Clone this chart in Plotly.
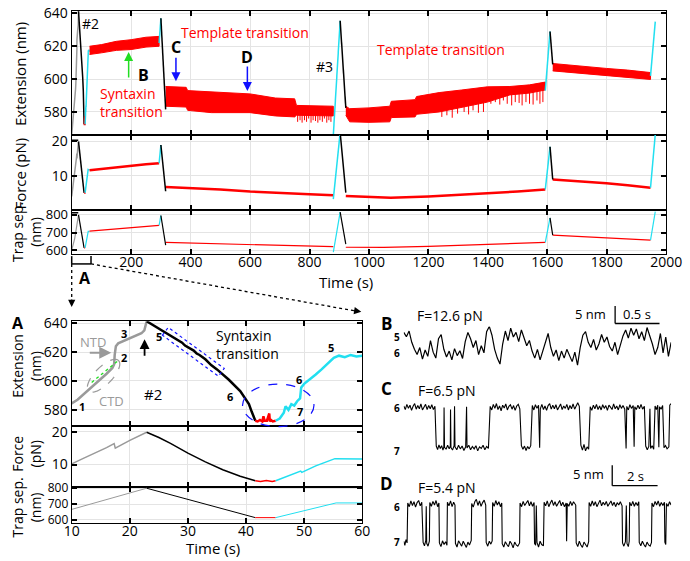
import numpy as np
import plotly.graph_objects as go

W, H = 690, 561
FONT = "Open Sans"
RED, CYAN, GRAY, BLACK = "#ff0000", "#22dff0", "#9a9a9a", "#000000"
BLUE, GREEN = "#1010ff", "#22dd22"

def px(x): return x / W
def py(y): return 1 - y / H

# ---------------- data: pull #2 (detail, also in overview) ----------------
gray_t = [0, 10, 11, 12, 13, 14, 15, 16, 17, 17.3, 17.4, 17.6, 18, 20, 22, 22.5, 22.9]
gray_ext = [566, 584.5, 587, 590.5, 594, 597.5, 601, 605, 609, 611.5, 618, 624, 626, 629.5, 633, 635, 641.3]
gray_force_t = [0, 10, 12, 14, 16, 17.3, 17.5, 20, 22.9]
gray_force = [4.0, 10.2, 11.9, 13.5, 15.2, 16.4, 15.0, 17.4, 19.9]
gray_trap_t = [0, 10, 22.9]
gray_trap = [600, 666, 800]

prev_t = [0, 22]
prev_force = [20.3, 20.3]
prev_trap = [812, 812]

black_t = [22.9, 25, 27, 28, 29, 29.5, 30, 31, 31.5, 32, 33, 34, 35, 37, 39, 40.5, 41, 41.6]
black_ext = [641.3, 636, 631, 629, 626.5, 624.5, 623.5, 621, 619, 618, 615, 611, 608, 601, 593, 584, 578.5, 572.5]
black_force_t = [22.9, 25, 27, 30, 33, 36, 39, 41.6]
black_force = [19.9, 18.3, 16.5, 13.5, 10.8, 8.4, 6.4, 5.0]
black_trap_t = [22.9, 41.6]
black_trap = [800, 614]

red0_t = [41.6, 42, 42.4, 42.8, 43.0, 43.2, 43.6, 44.0, 44.1, 44.3, 44.6, 45.1]
red0_ext = [572.5, 572, 573, 572, 575.5, 572.5, 572.5, 577.5, 572, 573, 572, 572.5]
red0_force_t = [41.6, 42.5, 43.5, 44.5, 45.1]
red0_force = [5.0, 4.8, 5.1, 4.8, 5.0]
red0_trap_t = [41.6, 45.1]
red0_trap = [614, 614]

cyan_t = [45.1, 45.8, 46.5, 46.8, 47.3, 47.8, 48.3, 48.8, 49.3, 49.5, 50, 51, 52, 53, 54, 55.1, 56, 57, 58, 59, 60]
cyan_ext = [572.5, 574, 578, 582.5, 580, 584, 583, 586, 588, 595.5, 598, 601, 604.5, 608, 612, 616, 617.5, 616.5, 618, 617, 617.5]
cyan_force_t = [45.1, 47, 49.4, 49.6, 52, 55.3, 57, 60]
cyan_force = [5.0, 6.3, 8.0, 7.6, 9.6, 11.8, 11.7, 11.7]
cyan_trap_t = [45.1, 55.5, 60]
cyan_trap = [614, 707, 707]

# ---------------- data: overview holds / pulls ----------------
h1_t = [60, 100, 150, 200, 250, 294]
h1_up = [620, 621, 623, 624, 625.5, 626]
h1_lo = [615, 616, 617.5, 618, 619.5, 620]
h1_force = [11.6, 12.0, 12.5, 12.9, 13.3, 13.6]
h1_trap = [708, 714, 722, 729, 735, 740]

h2_t = [316, 385, 390, 470, 600, 685, 750, 756, 880]
h2_up = [595.5, 595, 593, 592.4, 591, 588.5, 588, 584, 583.5]
h2_lo = [583.5, 583, 581, 579.6, 579.6, 577.6, 577, 578, 577.6]
h2_force_t = [316, 400, 500, 600, 700, 800, 880]
h2_force = [6.7, 6.4, 6.0, 5.4, 4.9, 4.6, 4.3]
h2_trap_t = [316, 600, 880]
h2_trap = [644, 632, 620]
s2_t = [760, 768, 775, 783, 790, 797, 805, 812, 820, 828, 835, 843, 850, 858, 865, 872]
s2_lo = [574, 575, 573.5, 575, 574, 576, 573.5, 575, 574.5, 573.5, 575, 574, 576, 573.5, 575, 574]
s2_hi = [580, 580, 580, 580, 579.5, 580, 580, 579.5, 580, 580, 579.5, 580, 580, 579.5, 580, 580]

h3_t = [922, 935, 1000, 1070, 1075, 1155, 1160, 1236, 1312, 1398, 1474, 1540, 1593]
h3_up = [583.5, 582, 582.5, 583.5, 586.5, 587.5, 589.4, 591.8, 593.4, 595.3, 595.5, 596.5, 598.2]
h3_lo = [578, 574, 573.7, 574, 576.6, 577, 578.6, 580, 583, 586, 590.4, 591.5, 593.4]
h3_force_t = [922, 1000, 1073, 1200, 1300, 1400, 1500, 1593]
h3_force = [4.1, 3.8, 3.6, 4.0, 4.4, 5.0, 5.4, 6.0]
h3_trap_t = [922, 1050, 1200, 1400, 1593]
h3_trap = [617, 616, 622, 633, 644]
s3_t = [1245, 1262, 1280, 1298, 1320, 1335, 1350, 1368, 1385, 1410, 1425, 1440, 1452, 1465, 1480,
        1492, 1505, 1515, 1528, 1540, 1552, 1565, 1575, 1585]
s3_lo = [577, 578, 576.5, 579, 580, 578.5, 581, 579.5, 580, 585, 586, 584.5, 587, 585, 584,
         586, 585.5, 584, 586, 585, 584.5, 587, 585, 586]
s3_hi = [582, 583, 582, 584, 586, 585, 587, 587, 588, 591, 591, 591, 592, 592, 592,
         592.5, 593, 593, 593, 593.5, 593.5, 594, 594, 594.5]

h4_t = [1618, 1700, 1799, 1870, 1947]
h4_up = [609.5, 608, 606.5, 605.5, 604]
h4_lo = [605, 603.5, 602.2, 601, 599.8]
h4_force = [8.9, 8.5, 7.8, 7.2, 6.5]
h4_trap = [685, 678, 670, 664, 657]

pulls_t = [[294, 300], [880, 903], [1593, 1609], [1947, 1963]]
pulls_ext = [[622, 637], [566, 635.5], [593, 629], [602, 635]]
pulls_force = [[13.6, 18.9], [3.2, 22.5], [6.0, 18.4], [6.5, 22.0]]
pulls_trap = [[740, 796], [589, 815], [644, 783], [657, 818]]

relax_t = [[300, 316], [903, 922], [1609, 1618]]
relax_ext = [[637, 581.6], [635.5, 582.5], [629, 609]]
relax_force = [[18.9, 5.5], [22.5, 5.1], [18.4, 8.9]]
relax_trap = [[796, 629], [815, 635], [783, 685]]

# ---------------- data: hopping traces B, C, D ----------------
B_dt = 0.03
B_vals = [5.8, 4.6, 6.2, 3.0, 1.0, -0.5, 1.5, -1.8, 0.8, -1.0, 3.5, 0.2, -1.5, 4.0, 5.2, 1.0, -1.2, 0.5,
          -2.0, 1.2, -0.8, 0.6, -1.6, 3.2, 5.8, 4.0, 1.5, 3.5, -0.5, 2.0, 0.0, 6.0, 7.5, 5.0, 1.0, -1.5,
          -3.2, 2.5, 6.2, 3.5, 7.0, 4.5, 5.8, 3.2, 6.5, 4.0, 2.0, 3.5, 0.5, -1.5, 1.0, -2.0, 0.5, 2.5,
          5.5, 1.5, -1.0, 0.8, -2.2, 0.5, -1.5, 1.0, -0.8, -2.5, 0.2, -3.5, 1.5, 5.0, 6.0, 3.0, 1.5,
          3.8, 0.8, 2.5, 5.2, 3.0, 4.5, 1.8, 0.5, 3.0, -0.5, 2.0, 4.8, 6.5, 4.2, 7.0, 5.0, 6.8, 4.0,
          6.0, 3.5, 7.2, 5.0, 2.5, -0.5, 1.5, 5.5, 0.0, 4.5, -1.0, 3.0]

C_t = [0.00, 0.07, 0.14, 0.21, 0.28, 0.35, 0.42, 0.49, 0.56, 0.63, 0.70, 0.77, 0.84, 0.91, 0.98, 1.05,
       1.12, 1.19, 1.26, 1.33, 1.40, 1.46, 1.52, 1.58, 1.64, 1.70, 1.76, 1.80, 1.81, 1.83, 1.90, 1.97,
       2.04, 2.09, 2.10, 2.12, 2.19, 2.26, 2.28, 2.30, 2.38, 2.46, 2.54, 2.62, 2.70, 2.78, 2.82, 2.84,
       2.92, 3.00, 3.08, 3.16, 3.24, 3.32, 3.40, 3.48, 3.56, 3.64, 3.72, 3.80, 3.88, 3.95, 4.02, 4.09,
       4.16, 4.23, 4.30, 4.37, 4.44, 4.51, 4.58, 4.65, 4.72, 4.79, 4.86, 4.93, 5.00, 5.07, 5.14, 5.21,
       5.28, 5.35, 5.42, 5.49, 5.56, 5.63, 5.70, 5.77, 5.84, 5.91, 5.98, 6.05, 6.10, 6.13, 6.20, 6.27,
       6.34, 6.41, 6.48, 6.55, 6.62, 6.69, 6.76, 6.83, 6.90, 6.97, 7.04, 7.11, 7.18, 7.25, 7.32, 7.39,
       7.46, 7.53, 7.60, 7.67, 7.74, 7.81, 7.88, 7.95, 8.02, 8.09, 8.16, 8.23, 8.30, 8.37, 8.44, 8.51,
       8.58, 8.65, 8.72, 8.79, 8.86, 8.93, 9.00, 9.07, 9.14, 9.21, 9.28, 9.35, 9.42, 9.49, 9.56, 9.63,
       9.70, 9.77, 9.84, 9.92, 9.98, 10.01, 10.08, 10.15, 10.22, 10.30, 10.34, 10.37, 10.44, 10.51,
       10.58, 10.65, 10.72, 10.80, 10.86, 10.93, 11.00, 11.05, 11.08, 11.15, 11.22, 11.28, 11.34,
       11.40, 11.45, 11.48, 11.55, 11.62, 11.68, 11.75, 11.82, 11.90, 11.94, 12.00]
C_v = [0.4, -0.5, 0.8, -0.2, 0.6, -0.7, 0.3, 1.0, -0.4, 0.5, -0.3, 0.9, -0.6, 0.2, 0.8, -0.5,
       0.5, -0.3, 0.7, -0.5, 0.3, -9.6, -10.5, -9.3, -10.2, -9.5, -10.6, -9.8, 0.0, -9.9, -10.4, -9.4,
       -10.3, -9.6, -0.5, -10.0, -10.6, -9.5, 0.3, -9.8, -10.5, -9.4, -10.3, -9.6, -10.7, -9.8, 0.2, -10.1,
       -9.4, -10.5, -9.7, -10.3, -9.5, -10.8, -9.8, -10.2, -9.4, -10.5, -9.7, -10.2, 0.3, -0.6, 0.8, -0.2,
       1.0, -0.5, 0.4, -0.8, 0.6, -0.1, 0.9, -0.6, 0.3, 0.7, -0.4, 0.5, -0.7, 0.4, 0.8, -0.3,
       -9.5, -10.4, -9.6, -10.7, -9.7, -10.3, -9.5, 0.5, -0.6, 0.7, -0.2, 0.6, -10.0, -0.3, 0.8, -0.5,
       0.4, -0.7, 0.5, 1.0, -0.4, 0.6, -0.3, 0.7, -0.6, 0.3, 0.9, -0.5, 0.4, -0.2, 0.8, -0.6,
       0.5, -0.3, 0.9, -0.4, 0.6, 1.2, 0.3, -9.4, -10.6, -9.2, -10.8, -9.8, -10.4, 0.2, -0.7, 0.6,
       -0.3, 0.8, -0.5, 0.4, -0.6, 0.7, -0.2, 0.5, -0.7, 0.6, 0.1, -0.5, 0.9, -0.3, 0.4, -0.6,
       0.7, -0.2, 0.5, -0.4, -10.2, 0.3, -0.6, 0.7, -0.2, 0.5, -9.8, 0.2, -0.5, 0.6,
       -0.3, 0.8, -0.4, 0.3, -9.6, -10.5, -9.7, -0.3, -10.2, -9.5, -10.4, 0.4, -0.5,
       0.6, -9.9, 0.2, -0.4, 0.5, -10.0, -9.5, -10.3, -9.8, 0.6, 1.0]

D_t = [0.00, 0.05, 0.10, 0.15, 0.18, 0.25, 0.32, 0.39, 0.46, 0.53, 0.60, 0.67, 0.74, 0.81, 0.87, 0.93,
       0.99, 1.01, 1.03, 1.09, 1.15, 1.17, 1.24, 1.31, 1.38, 1.45, 1.52, 1.58, 1.60, 1.67, 1.74, 1.81,
       1.88, 1.94, 1.96, 2.03, 2.10, 2.17, 2.24, 2.30, 2.32, 2.39, 2.46, 2.53, 2.60, 2.67, 2.74, 2.81,
       2.88, 2.95, 3.03, 3.05, 3.12, 3.19, 3.26, 3.33, 3.40, 3.47, 3.54, 3.61, 3.68, 3.70, 3.77, 3.84,
       3.91, 3.97, 3.99, 4.06, 4.13, 4.20, 4.27, 4.34, 4.40, 4.42, 4.49, 4.56, 4.63, 4.70, 4.77, 4.84,
       4.91, 4.98, 5.05, 5.12, 5.20, 5.22, 5.29, 5.36, 5.43, 5.50, 5.57, 5.64, 5.71, 5.78, 5.85, 5.87,
       5.92, 5.95, 5.98, 6.05, 6.12, 6.19, 6.27, 6.30, 6.37, 6.44, 6.51, 6.58, 6.65, 6.72, 6.79, 6.86,
       6.93, 7.00, 7.07, 7.14, 7.21, 7.29, 7.31, 7.34, 7.41, 7.48, 7.55, 7.62, 7.72, 7.74, 7.81, 7.88,
       7.95, 8.02, 8.09, 8.16, 8.23, 8.30, 8.32, 8.39, 8.46, 8.53, 8.60, 8.67, 8.74, 8.81, 8.88, 8.95,
       9.02, 9.09, 9.16, 9.23, 9.30, 9.37, 9.44, 9.51, 9.58, 9.65, 9.72, 9.80, 9.82, 9.88, 9.95, 9.99,
       10.02, 10.08, 10.12, 10.14, 10.21, 10.28, 10.35, 10.42, 10.49, 10.55, 10.57, 10.64, 10.71, 10.78,
       10.85, 10.92, 10.99, 11.06, 11.12, 11.14, 11.21, 11.28, 11.35, 11.42, 11.49, 11.56, 11.63, 11.70,
       11.72, 11.76, 11.79, 11.86, 11.93, 12.00]
D_v = [-9.0, -10.0, -8.6, -9.4, 0.3, -0.6, 0.8, -0.3, 0.6, -0.7, 0.4, 0.9, -0.4, 0.5, -9.3, -10.1,
       -8.8, -0.5, -9.5, -10.2, -9.0, 0.4, -0.5, 0.7, -0.2, 0.9, -0.6, 0.3, -9.4, -10.3, -8.9, -9.8,
       -9.1, -10.0, 0.5, -0.4, 0.8, -0.6, 0.5, -0.2, -9.5, -10.4, -8.9, -9.7, -10.2, -9.0, -9.8, -10.5,
       -9.2, -9.9, -8.8, 0.2, -0.7, 0.6, 1.2, -0.3, 0.8, -0.5, 0.4, 1.0, -0.2, -9.3, -10.2, -9.0,
       -9.7, -8.9, 0.4, -0.5, 0.9, -0.2, 0.6, -0.6, 0.3, -9.6, -10.4, -9.1, -9.8, -10.3, -9.0, -9.6,
       -10.6, -9.2, -9.9, -10.2, -9.4, 0.3, -0.6, 0.7, -0.3, 0.5, 0.9, -0.4, 0.6, -0.5, 0.4, -9.5,
       -10.0, -0.3, -9.3, -10.4, -9.0, -9.8, -10.1, 0.5, -0.4, 0.8, -0.6, 0.3, 1.0, -0.3, 0.6, -0.5,
       0.4, 0.9, -0.4, 0.5, -0.6, 0.3, -9.0, 0.2, -0.5, 0.7, -0.3, 0.6, -0.2, -9.4, -10.3, -9.0,
       -9.9, -10.5, -9.2, -9.8, -10.4, -9.1, 0.4, -0.5, 0.8, -0.3, 0.6, -0.6, 0.4, 1.0, -0.4, 0.5,
       -0.2, 0.7, -0.5, 0.3, 0.8, -0.3, 0.5, -0.6, 0.4, -0.2, 0.6, -0.4, -9.4, -10.2, -9.1, -0.3,
       -9.6, -10.3, -9.0, 0.5, -0.4, 0.7, -0.5, 0.4, -0.3, 0.6, -9.3, -10.1, -9.0, -9.8,
       -10.4, -9.2, -9.9, -10.2, -9.3, 0.3, -0.6, 0.7, -0.2, 0.8, -0.5, 0.4, -0.3, 0.5,
       -9.2, -9.8, 0.2, -0.5, 0.6, -0.2]

# ---------------- figure ----------------
fig = go.Figure()

def line(x, y, ax, color, width):
    fig.add_trace(go.Scatter(x=x, y=y, xaxis="x" + ax, yaxis="y" + ax, mode="lines",
                             line=dict(color=color, width=width), hoverinfo="skip"))

def band(t, up, lo, ax, color):
    fig.add_trace(go.Scatter(x=list(t) + list(t)[::-1], y=list(up) + list(lo)[::-1],
                             xaxis="x" + ax, yaxis="y" + ax, mode="lines", fill="toself",
                             fillcolor=color, line=dict(color=color, width=1), hoverinfo="skip"))

def spikes(t, hi, lo, ax, color):
    xs, ys = [], []
    for a, b, c in zip(t, hi, lo):
        xs += [a, a, None]
        ys += [b, c, None]
    line(xs, ys, ax, color, 1)

# overview: ext = "", force = "2", trap = "3"
E, F, T = "", "2", "3"
line(prev_t, prev_force, F, BLACK, 1.5)
line(prev_t, prev_trap, T, BLACK, 1.5)
line(gray_t, gray_ext, E, GRAY, 1.5)
line(gray_force_t, gray_force, F, GRAY, 1.5)
line(gray_trap_t, gray_trap, T, GRAY, 1.2)
line(black_t, black_ext, E, BLACK, 1.5)
line(black_force_t, black_force, F, BLACK, 1.5)
line(black_trap_t, black_trap, T, BLACK, 1.2)
line(red0_t, red0_ext, E, RED, 1.5)
line(red0_force_t, red0_force, F, RED, 1.5)
line(red0_trap_t, red0_trap, T, RED, 1.2)
line(cyan_t, cyan_ext, E, CYAN, 1.5)
line(cyan_force_t, cyan_force, F, CYAN, 1.5)
line(cyan_trap_t, cyan_trap, T, CYAN, 1.2)

band(h1_t, h1_up, h1_lo, E, RED)
line(h1_t, h1_force, F, RED, 2.5)
line(h1_t, h1_trap, T, RED, 1.2)
band(h2_t, h2_up, h2_lo, E, RED)
spikes(s2_t, s2_hi, s2_lo, E, RED)
line(h2_force_t, h2_force, F, RED, 2.5)
line(h2_trap_t, h2_trap, T, RED, 1.2)
band(h3_t, h3_up, h3_lo, E, RED)
spikes(s3_t, s3_hi, s3_lo, E, RED)
line(h3_force_t, h3_force, F, RED, 2.5)
line(h3_trap_t, h3_trap, T, RED, 1.2)
band(h4_t, h4_up, h4_lo, E, RED)
line(h4_t, h4_force, F, RED, 2.5)
line(h4_t, h4_trap, T, RED, 1.2)
for t, e, f, tr in zip(pulls_t, pulls_ext, pulls_force, pulls_trap):
    line(t, e, E, CYAN, 1.5); line(t, f, F, CYAN, 1.5); line(t, tr, T, CYAN, 1.2)
for t, e, f, tr in zip(relax_t, relax_ext, relax_force, relax_trap):
    line(t, e, E, BLACK, 1.5); line(t, f, F, BLACK, 1.5); line(t, tr, T, BLACK, 1.2)

# detail panel A: ext = "4", force = "5", trap = "6"
line(gray_t, gray_ext, "4", GRAY, 2.5)
line(gray_force_t, gray_force, "5", GRAY, 1.5)
line(gray_trap_t, gray_trap, "6", GRAY, 1)
line(black_t, black_ext, "4", BLACK, 2.5)
line(black_force_t, black_force, "5", BLACK, 1.5)
line(black_trap_t, black_trap, "6", BLACK, 1)
line(red0_t, red0_ext, "4", RED, 2.5)
line(red0_force_t, red0_force, "5", RED, 1.5)
line(red0_trap_t, red0_trap, "6", RED, 1)
line(cyan_t, cyan_ext, "4", CYAN, 2.5)
line(cyan_force_t, cyan_force, "5", CYAN, 1.5)
line(cyan_trap_t, cyan_trap, "6", CYAN, 1)

# hopping traces
B_t = [i * B_dt for i in range(len(B_vals))]
line(B_t, B_vals, "7", BLACK, 1.2)
line(C_t, C_v, "8", BLACK, 1.1)
line(D_t, D_v, "9", BLACK, 1.1)

# ---------------- axes ----------------
LW = 1.1

def xax(domain, rng, anchor, tickvals, labels):
    return dict(domain=domain, range=rng, anchor=anchor, tickvals=tickvals, showticklabels=labels,
                ticks="inside", ticklen=5, tickwidth=1.5, tickcolor="black", showline=True,
                linecolor="black", linewidth=LW, mirror="ticks", showgrid=True, gridcolor="#e4e4e4",
                gridwidth=1, zeroline=False, tickfont=dict(family=FONT, size=14, color="black"),
                ticklabeloverflow="allow", ticklabelstandoff=-5)

def yax(domain, rng, anchor, tickvals, size=14):
    return dict(domain=domain, range=rng, anchor=anchor, tickvals=tickvals, ticks="inside",
                ticklen=5, tickwidth=1.5, tickcolor="black", showline=True, linecolor="black",
                linewidth=LW, mirror="ticks", showgrid=True, gridcolor="#e4e4e4", gridwidth=1,
                zeroline=False, tickfont=dict(family=FONT, size=size, color="black"),
                ticklabeloverflow="allow")

def hidden(domain, rng, anchor):
    return dict(domain=domain, range=rng, anchor=anchor, visible=False)

top_x = [px(66), px(682)]
top_ticks = [200, 400, 600, 800, 1000, 1200, 1400, 1600, 1800, 2000]
a_x = [px(66), px(367)]
a_ticks = [10, 20, 30, 40, 50, 60]
r_x = [px(410), px(687)]

layout = dict(
    width=W, height=H, autosize=False, margin=dict(l=0, r=0, t=0, b=0),
    paper_bgcolor="white", plot_bgcolor="white", showlegend=False,
    font=dict(family=FONT, color="black"),
    xaxis=xax(top_x, [0, 2000], "y", top_ticks, False),
    yaxis=yax([py(130), py(3)], [566, 641.5], "x", [580, 600, 620, 640]),
    xaxis2=xax(top_x, [0, 2000], "y2", top_ticks, False),
    yaxis2=yax([py(207), py(130)], [0, 21.8], "x2", [10, 20]),
    xaxis3=xax(top_x, [0, 2000], "y3", top_ticks, True),
    yaxis3=yax([py(252), py(207)], [578, 826], "x3", [600, 700, 800], 13),
    xaxis4=xax(a_x, [10, 60], "y4", a_ticks, False),
    yaxis4=yax([py(427.7), py(320.7)], [569, 641.3], "x4", [580, 600, 620, 640]),
    xaxis5=xax(a_x, [10, 60], "y5", a_ticks, False),
    yaxis5=yax([py(490), py(427.7)], [3.2, 21.9], "x5", [10, 20]),
    xaxis6=xax(a_x, [10, 60], "y6", a_ticks, True),
    yaxis6=yax([py(527.7), py(490)], [577, 810], "x6", [600, 700, 800], 12),
    xaxis7=hidden(r_x, [0, 3.0], "y7"),
    yaxis7=hidden([py(370), py(326)], [-4.72, 7.5], "x7"),
    xaxis8=hidden(r_x, [0, 12], "y8"),
    yaxis8=hidden([py(462), py(400)], [-12.9, 2.2], "x8"),
    xaxis9=hidden(r_x, [0, 12], "y9"),
    yaxis9=hidden([py(556), py(500)], [-11.4, 1.9], "x9"),
)
fig.update_layout(**layout)

# ---------------- annotations ----------------
ann = []

def txt(x, y, s, size=14, color="black", bold=False, xanchor="center", angle=0, align="center"):
    ann.append(dict(x=px(x), y=py(y), xref="paper", yref="paper", text=("<b>%s</b>" % s if bold else s),
                    showarrow=False, font=dict(size=size, color=color, family=FONT), xanchor=xanchor,
                    yanchor="middle", textangle=angle, align=align))

def arrow(xh, yh, xt, yt, color, width=1.5, head=2, size=1.0):
    ann.append(dict(x=px(xh), y=py(yh), xref="paper", yref="paper", ax=xt - xh, ay=yt - yh,
                    axref="pixel", ayref="pixel", text="", showarrow=True, arrowhead=head,
                    arrowsize=size, arrowwidth=width, arrowcolor=color))

# axis titles
txt(13, 68, "Extension (nm)", 15, angle=-90)
txt(13, 170, "Force (pN)", 15, angle=-90)
txt(19, 229, "Trap sep.<br>(nm)", 14, angle=-90)
txt(350, 281, "Time (s)", 15)
txt(19, 366, "Extension<br>(nm)", 14, angle=-90)
txt(19, 456, "Force<br>(pN)", 14, angle=-90)
txt(19, 511, "Trap sep.<br>(nm)", 14, angle=-90)
txt(212, 553, "Time (s)", 15)

# top panel labels
txt(85, 16, "#2", 14)
txt(328, 60, "#3", 14)
txt(246, 25, "Template transition", 14, RED)
txt(449, 42, "Template transition", 14, RED)
txt(93, 97, "Syntaxin<br>transition", 14, RED, xanchor="left", align="left")
txt(174, 40, "C", 16, bold=True)
arrow(174, 75, 174, 50, BLUE, 1.5, 2, 1.2)
txt(248, 50, "D", 16, bold=True)
arrow(248, 85, 248, 59, BLUE, 1.5, 2, 1.2)
txt(140, 69, "B", 16, bold=True)
arrow(125, 45, 125, 72, GREEN, 1.5, 2, 1.2)

# bracket A and zoom arrows
txt(80, 276, "A", 16, bold=True)
arrow(66, 306, 66, 297, BLACK, 1.2, 2, 1.2)
arrow(366, 311, 357, 309.5, BLACK, 1.2, 2, 1.2)

# panel A labels
txt(10, 322, "A", 16, bold=True)
txt(88, 342, "NTD", 13, GRAY)
arrow(107, 353, 84, 353, GRAY, 2, 2, 1.2)
txt(107, 402, "CTD", 13, GRAY)
txt(150, 395, "#2", 15)
arrow(141.5, 339, 141.5, 357, BLACK, 1.8, 2, 1.1)
txt(213, 344, "Syntaxin<br>transition", 14, xanchor="left", align="left")
for (x, y, s) in [(77, 408, "1"), (120, 358, "2"), (120, 333, "3"), (156, 336, "5"), (230, 398, "6"),
                  (335, 348, "5"), (302, 380, "6"), (303, 413, "7")]:
    txt(x, y, s, 11, bold=True)

# right panels
txt(392, 323, "B", 17, bold=True)
txt(458, 315, "F=12.6 pN", 14)
txt(392, 390, "C", 17, bold=True)
txt(455, 392, "F=6.5 pN", 14)
txt(392, 487, "D", 17, bold=True)
txt(455, 491, "F=5.4 pN", 14)
for (y, s) in [(337, "5"), (353, "6"), (410, "6"), (454, "7"), (511, "6"), (547, "7")]:
    txt(403, y, s, 10, bold=True)
txt(622, 313, "5 nm", 13, xanchor="right")
txt(652, 313, "0.5 s", 13)
txt(620, 477, "5 nm", 13, xanchor="right")
txt(650, 479, "2 s", 13)

fig.update_layout(annotations=ann)

# ---------------- shapes ----------------
shapes = []

def seg(x0, y0, x1, y1, color=BLACK, width=1.5, dash="solid"):
    shapes.append(dict(type="line", xref="paper", yref="paper", x0=px(x0), y0=py(y0), x1=px(x1),
                       y1=py(y1), line=dict(color=color, width=width, dash=dash)))

# bracket
seg(66, 254, 66, 262); seg(66, 262, 86, 262); seg(86, 262, 86, 254)
seg(66, 262, 66, 300, width=1.3, dash="dot")
seg(86, 262, 359, 310, width=1.3, dash="dot")
# scale bars
seg(629, 305, 629, 323, width=1.3); seg(629, 323, 675, 323, width=1.3)
seg(626, 468, 626, 489, width=1.3); seg(626, 489, 673, 489, width=1.3)
# green dotted guide
seg(86.7, 383.3, 113.3, 361.7, GREEN, 1.3, "dot")

# gray rotated ellipse around CTD
cx, cy, a, b, ang = 99.0, 376.5, 22.0, 9.0, np.deg2rad(-45)
th = np.linspace(0, 2 * np.pi, 60)
ex = cx + a * np.cos(th) * np.cos(ang) - b * np.sin(th) * np.sin(ang)
ey = cy + a * np.cos(th) * np.sin(ang) + b * np.sin(th) * np.cos(ang)
path = "M " + " L ".join("%.5f,%.5f" % (px(u), py(v)) for u, v in zip(ex, ey)) + " Z"
shapes.append(dict(type="path", xref="paper", yref="paper", path=path,
                   line=dict(color=GRAY, width=1.2, dash="dash")))

# blue dashed box along syntaxin transition region
corners = [(160, 335), (166, 327), (224, 369), (218, 377)]
path = "M " + " L ".join("%.5f,%.5f" % (px(u), py(v)) for u, v in corners) + " Z"
shapes.append(dict(type="path", xref="paper", yref="paper", path=path,
                   line=dict(color=BLUE, width=1.2, dash="dot")))
# blue dashed ellipse
shapes.append(dict(type="circle", xref="paper", yref="paper", x0=px(243), x1=px(317),
                   y0=py(428.5), y1=py(385), line=dict(color=BLUE, width=1.2, dash="dash")))

fig.update_layout(shapes=shapes)
fig.write_html("out.html", config={"displayModeBar": False},
               post_script="document.body.style.margin='0px';")
